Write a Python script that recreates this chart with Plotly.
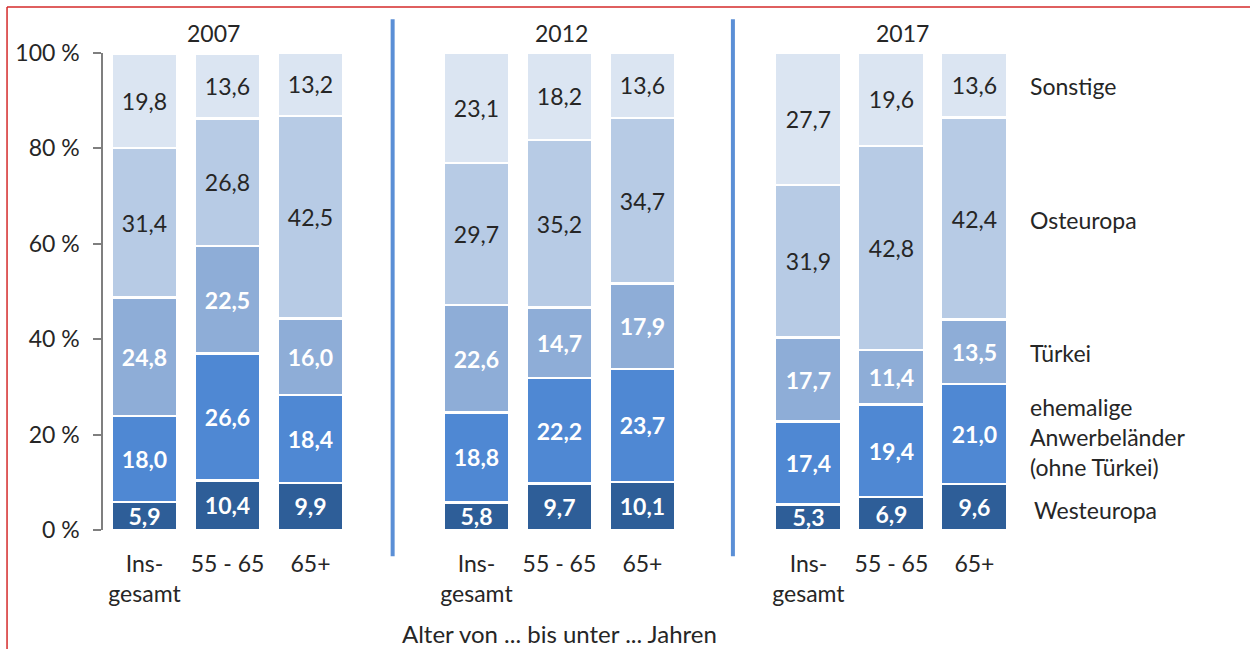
import plotly.graph_objects as go

years = ["2007", "2012", "2017"]
ages = ["Ins-<br>gesamt", "55 - 65", "65+"]

# values per series, ordered 2007 (Ins, 55-65, 65+), 2012 (...), 2017 (...)
westeuropa = [5.9, 10.4, 9.9, 5.8, 9.7, 10.1, 5.3, 6.9, 9.6]
anwerbe = [18.0, 26.6, 18.4, 18.8, 22.2, 23.7, 17.4, 19.4, 21.0]
tuerkei = [24.8, 22.5, 16.0, 22.6, 14.7, 17.9, 17.7, 11.4, 13.5]
osteuropa = [31.4, 26.8, 42.5, 29.7, 35.2, 34.7, 31.9, 42.8, 42.4]
sonstige = [19.8, 13.6, 13.2, 23.1, 18.2, 13.6, 27.7, 19.6, 13.6]

series_names = ["Westeuropa", "ehemalige<br>Anwerbeländer<br>(ohne Türkei)", "Türkei", "Osteuropa", "Sonstige"]
series_values = [westeuropa, anwerbe, tuerkei, osteuropa, sonstige]
colors = ["#2e5e98", "#4f88d3", "#8eadd7", "#b7cbe5", "#dbe5f2"]
text_colors = ["white", "white", "white", "#262626", "#262626"]
bold = [True, True, True, False, False]

y_ticks = [0, 20, 40, 60, 80, 100]
y_ticktext = [f"{v} %" for v in y_ticks]

# x positions: three groups of three bars with a gap slot between groups
xpos = [0, 1, 2, 4, 5, 6, 8, 9, 10]
FONT = "Lato"
FS = 23
TXT = "#262626"

fig = go.Figure()
for name, vals, col, tc, b in zip(series_names, series_values, colors, text_colors, bold):
    txt = [f"{v:.1f}".replace(".", ",") for v in vals]
    if b:
        txt = [f"<b>{t}</b>" for t in txt]
    fig.add_trace(go.Bar(
        x=xpos, y=vals, name=name, width=0.8,
        marker=dict(color=col, line=dict(color="white", width=2.5)),
        text=txt, textposition="inside", insidetextanchor="middle",
        textangle=0, constraintext="none",
        textfont=dict(family=FONT, size=FS, color=tc),
        hoverinfo="skip",
    ))

annotations = []
# year titles
for yr, xx in zip(years, [0.83, 5.03, 9.13]):
    annotations.append(dict(text=yr, x=xx, y=1.042, xref="x", yref="paper", yanchor="middle",
                            showarrow=False, font=dict(family=FONT, size=FS, color=TXT)))
# series labels at right
legend_pos = [(10.65, 93.1, "Sonstige"), (10.65, 65.0, "Osteuropa"), (10.65, 37.1, "Türkei"),
              (10.65, 19.5, "ehemalige<br>Anwerbeländer<br>(ohne Türkei)"), (10.69, 4.2, "Westeuropa")]
for xx, yy, t in legend_pos:
    annotations.append(dict(text=t, x=xx, y=yy, xref="x", yref="y", xanchor="left", align="left",
                            yanchor="middle",
                            showarrow=False, font=dict(family=FONT, size=FS, color=TXT)))
# axis caption
annotations.append(dict(text="Alter von ... bis unter ... Jahren", x=5, y=-0.216, xref="x", yref="paper",
                        yanchor="middle",
                        showarrow=False, font=dict(family=FONT, size=24, color=TXT)))

shapes = []
for xx in [2.99, 7.09]:
    shapes.append(dict(type="line", x0=xx, x1=xx, y0=1.071, y1=-0.055, xref="x", yref="paper",
                       line=dict(color="#5b8fd6", width=4)))
# red frame (top and left edges)
shapes.append(dict(type="line", x0=-0.0844, x1=1.05, y0=1.0964, y1=1.0964, xref="paper", yref="paper",
                   line=dict(color="#d42a2a", width=1.5)))
shapes.append(dict(type="line", x0=-0.0844, x1=-0.0844, y0=1.0964, y1=-0.3, xref="paper", yref="paper",
                   line=dict(color="#d42a2a", width=1.5)))

fig.update_layout(
    barmode="stack",
    width=1250, height=649,
    margin=dict(l=103, r=10, t=53, b=119),
    paper_bgcolor="white", plot_bgcolor="white",
    showlegend=False,
    annotations=annotations,
    shapes=shapes,
    font=dict(family=FONT, size=FS, color=TXT),
)
fig.update_xaxes(range=[-0.5, 13.2], tickvals=xpos, ticktext=ages * 3,
                 showline=False, showgrid=False, zeroline=False, ticks="",
                 tickfont=dict(family=FONT, size=FS, color=TXT), ticklabelstandoff=18)
fig.update_yaxes(range=[0, 100], tickvals=y_ticks, ticktext=y_ticktext,
                 showline=True, linecolor="#7f7f7f", linewidth=1.5,
                 ticks="outside", ticklen=8, tickcolor="#7f7f7f", tickwidth=1.5,
                 showgrid=False, zeroline=False, ticklabelstandoff=9,
                 tickfont=dict(family=FONT, size=FS, color=TXT))

fig.write_html("out.html", config={"displayModeBar": False},
               post_script="document.body.style.margin='0';document.body.style.overflow='hidden';")
